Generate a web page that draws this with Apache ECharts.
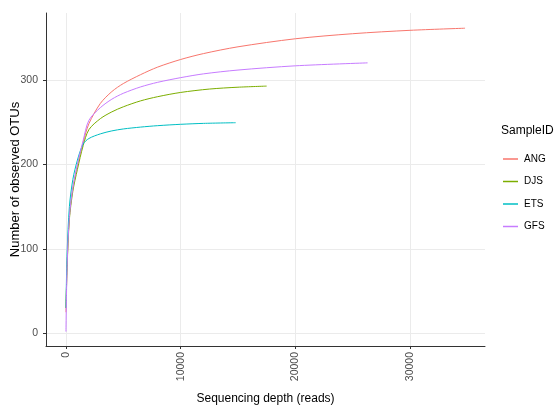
<!DOCTYPE html>
<html><head><meta charset="utf-8">
<script src="https://cdn.jsdelivr.net/npm/echarts@6/dist/echarts.min.js"></script>
<style>html,body{margin:0;padding:0;background:#fff}#c{width:554px;height:407px}</style>
</head><body><div id="c"></div>
<script>
const sampleIds = ["ANG", "DJS", "ETS", "GFS"];
const colors = ["#F8766D", "#7CAE00", "#00BFC4", "#C77CFF"];
const xTicks = [0, 10000, 20000, 30000];
const yTicks = [0, 100, 200, 300];
const angDepth = [1, 100, 300, 600, 1000, 1500, 2000, 3000, 4000, 5000, 6500, 8000, 10000, 12000, 15000, 20000, 25000, 30000, 34800];
const angOTU   = [25, 80, 138, 172, 198, 226, 248, 272, 286, 295.5, 306, 315, 324, 331, 339, 348.5, 354.5, 358.5, 361];
const djsDepth = [1, 100, 300, 600, 1000, 1500, 2000, 3000, 4000, 5000, 6500, 8000, 10000, 12500, 15000, 17500];
const djsOTU   = [30, 78, 135, 168, 194, 222, 241, 254, 262, 268, 275, 280, 285, 289, 291.2, 292.5];
const etsDepth = [1, 100, 300, 600, 1000, 1500, 2000, 3000, 4000, 5000, 6500, 8000, 10000, 12000, 14800];
const etsOTU   = [30, 95, 150, 182, 205, 224, 230.5, 236, 239.5, 241.8, 244, 245.7, 247.3, 248.4, 249.2];
const gfsDepth = [1, 100, 300, 600, 1000, 1500, 2000, 3000, 4000, 5000, 6500, 8000, 10000, 12000, 15000, 20000, 26300];
const gfsOTU   = [2, 80, 138, 172, 200, 228, 252, 267, 277, 284, 291.5, 297, 302.5, 307, 311.5, 316.5, 320];

const depths = [angDepth, djsDepth, etsDepth, gfsDepth];
const otus = [angOTU, djsOTU, etsOTU, gfsOTU];

const chart = echarts.init(document.getElementById('c'), null, {renderer: 'canvas'});
const font = 'Liberation Sans, Arial, sans-serif';
const series = sampleIds.map((id, i) => ({
  name: id, type: 'line', showSymbol: false, symbol: 'none',
  smooth: 0.3,
  data: depths[i].map((d, j) => [d, otus[i][j]]),
  lineStyle: {color: colors[i], width: 1}, itemStyle: {color: colors[i]},
  z: 3
}));
chart.setOption({
  animation: false,
  backgroundColor: '#fff',
  grid: {left: 46, right: 69, top: 13, bottom: 61, containLabel: false, outerBoundsMode: 'none'},
  xAxis: {
    type: 'value', min: -1740, max: 36540,
    axisLine: {show: true, onZero: false, lineStyle: {color: '#333', width: 1}},
    axisTick: {show: true, customValues: xTicks, length: 3, lineStyle: {color: '#333'}},
    axisLabel: {customValues: xTicks, rotate: 90, color: '#4D4D4D', fontSize: 10.5, fontFamily: font, margin: 6,
      formatter: v => String(v)},
    splitLine: {show: true, lineStyle: {color: '#EBEBEB', width: 1}},
    name: 'Sequencing depth (reads)', nameLocation: 'middle', nameGap: 47, nameMoveOverlap: false,
    nameTextStyle: {color: '#000', fontSize: 12, fontFamily: font}
  },
  yAxis: {
    type: 'value', min: -15, max: 379,
    axisLine: {show: true, onZero: false, lineStyle: {color: '#333', width: 1}},
    axisTick: {show: true, customValues: yTicks, length: 3, lineStyle: {color: '#333'}},
    axisLabel: {customValues: yTicks, color: '#4D4D4D', fontSize: 10.5, fontFamily: font, margin: 8,
      formatter: v => String(v)},
    splitLine: {show: true, lineStyle: {color: '#EBEBEB', width: 1}},
    name: 'Number of observed OTUs', nameLocation: 'middle', nameGap: 24, nameRotate: 90, nameMoveOverlap: false,
    nameTextStyle: {color: '#000', fontSize: 13, fontFamily: font}
  },
  legend: {
    orient: 'vertical', left: 498, top: 149,
    icon: 'rect', itemWidth: 15, itemHeight: 1.5, itemGap: 12.5,
    textStyle: {color: '#000', fontSize: 10, fontFamily: font, padding: [0,0,0,1]},
    data: sampleIds
  },
  graphic: [{type: 'text', left: 501, top: 125, style: {text: 'SampleID', fill: '#000', font: '12px ' + font}}],
  series: series
});
</script></body></html>
